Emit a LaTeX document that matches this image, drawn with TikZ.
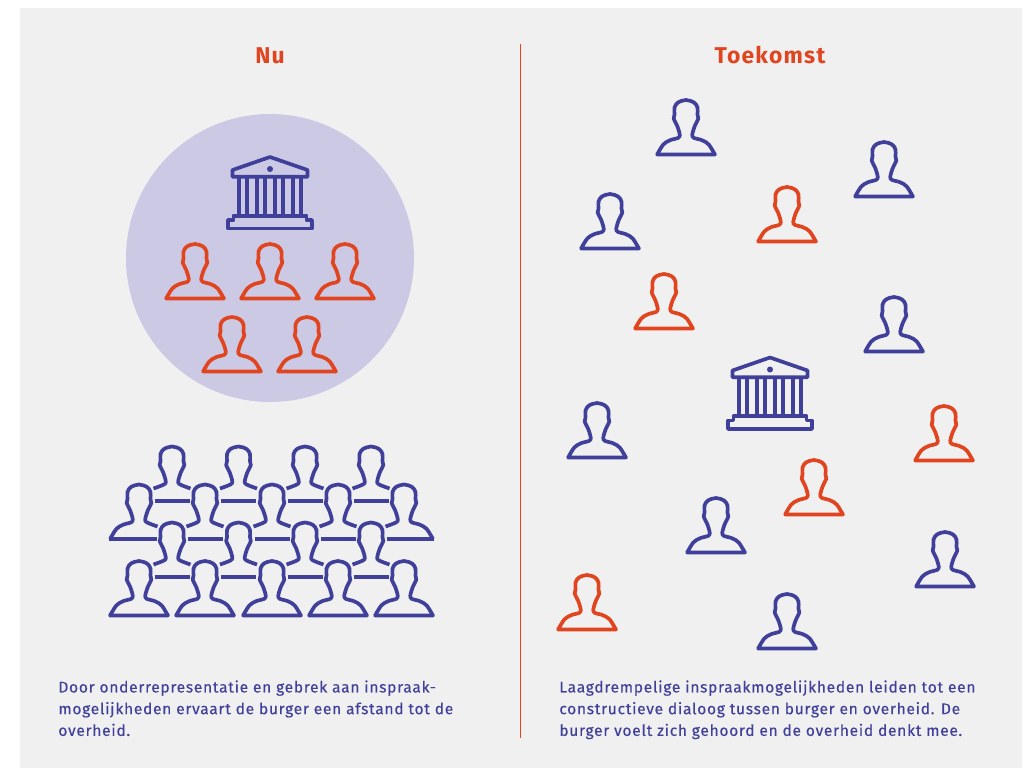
\documentclass[tikz,border=0pt]{standalone}
\usepackage{fontspec}
\setmainfont[LetterSpace=4.6,FakeBold=0.25]{Fira Sans}
\newfontfamily\kopletter[LetterSpace=5.5]{Fira Sans}
\definecolor{duidblauw}{HTML}{40409A}
\definecolor{duidrood}{HTML}{E0451F}
\definecolor{duidgrijs}{HTML}{F0F0F0}
\definecolor{duidlila}{HTML}{CCC9E5}
\newcommand{\hoofdlijn}{(-7.7,16.7) (-6.3,20) (-8.7,28.3) (-12.3,36) (-11.5,40) (-11.5,47) (-8,52) (0,54.5) (8,52) (11.5,47) (11.5,40) (12.3,36) (8.7,28.3) (6.3,20) (7.7,16.7)}
\tikzset{
	figuur/.style={line width=2.1pt,line join=round,line cap=butt},
	kop/.style={font=\kopletter\fontsize{13}{15}\selectfont\bfseries,text=duidrood,inner sep=0pt,anchor=base},
	tekst/.style={font=\fontsize{8.85}{12.35}\selectfont,text=duidblauw,inner sep=0pt,anchor=north west,align=left},
	pics/persoon/.style={code={
		\draw[figuur,#1] plot[smooth,tension=0.55] coordinates {(-28.9,0) (-22.7,10) (-16,14.3) \hoofdlijn (16,14.3) (22.7,10) (28.9,0)} -- cycle;
	}},
	pics/romp/.style={code={
		\draw[figuur,#1] plot[smooth,tension=0.55] coordinates {(-18.5,12.5) \hoofdlijn (18.5,12.5)};
	}},
	pics/schouderlinks/.style={code={
		\draw[figuur,#1] plot[smooth,tension=0.55] coordinates {(-28.9,0) (-22.7,10) (-16,14.3) \hoofdlijn (18.5,12.5)};
		\draw[figuur,#1] (-30,0) -- (17.5,0);
	}},
	pics/gebouw/.style={code={
		\draw[figuur,duidblauw] (-42,1.5) -- (42,1.5) -- (42,10) -- (36.5,10) -- (36.5,14.3) -- (-36.5,14.3) -- (-36.5,10) -- (-42,10) -- cycle;
		\draw[figuur,duidblauw] (-37.5,53.3) -- (37.5,53.3) -- (37.5,60) -- (0,73) -- (-37.5,60) -- cycle;
		\foreach \kolom in {-31,-23.3,-13,-5,4.7,12.7,22.7,30.7}
			\draw[figuur,duidblauw] (\kolom,14.3) -- (\kolom,53.3);
		\fill[duidblauw] (0,61) circle (3);
	}},
}
\begin{document}
\begin{tikzpicture}[x=0.02cm,y=-0.02cm]
	\useasboundingbox (0,0) rectangle (1030,768);
	\fill[duidgrijs] (20,8) rectangle (1022,768);
	\draw[duidrood,line width=0.5pt] (520,44) -- (520,738);
	\node[kop] (nu) at (270,63) {Nu};
	\node[kop] (toekomst) at (770,63) {Toekomst};
	% groep in de cirkel
	\fill[duidlila] (270,258) circle (144);
	\pic[yscale=-1] at (270,230) {gebouw};
	\foreach \px/\py in {195/298.5,270/298.5,345/298.5,232/371.5,307/371.5}
		\pic[yscale=-1] at (\px,\py) {persoon=duidrood};
	% menigte
	\foreach \rij in {501,577} {
		\foreach \px in {172,238.5,305,371} {
			\pic[yscale=-1] at (\px,\rij) {romp=duidblauw};
			\draw[figuur,duidblauw] (\px-17.5,\rij) -- (\px+17.5,\rij);
		}
	}
	\foreach \px in {205,272,338} {
		\pic[yscale=-1] at (\px,539) {romp=duidblauw};
		\draw[figuur,duidblauw] (\px-17.5,539) -- (\px+17.5,539);
	}
	\pic[yscale=-1] at (139,539) {schouderlinks=duidblauw};
	\pic[yscale=-1,xscale=-1] at (404,539) {schouderlinks=duidblauw};
	\foreach \px in {139,205,272,338,404}
		\pic[yscale=-1] at (\px,615.5) {persoon=duidblauw};
	% toekomst
	\pic[yscale=-1] at (770,430.5) {gebouw};
	\foreach \px/\py in {686/154.5,884/196.5,610/248.5,894/351.5,597/457.5,716/552.5,945/586.5,787/648.5}
		\pic[yscale=-1] at (\px,\py) {persoon=duidblauw};
	\foreach \px/\py in {787/241.5,664/328.5,944/460.5,814/514.5,587/629.5}
		\pic[yscale=-1] at (\px,\py) {persoon=duidrood};
	\node[tekst] (links) at (58,680) {Door onderrepresentatie en gebrek aan inspraak-\\mogelijkheden ervaart de burger een afstand tot de\\overheid.};
	\node[tekst] (rechts) at (559,680) {Laagdrempelige inspraakmogelijkheden leiden tot een\\constructieve dialoog tussen burger en overheid. De\\burger voelt zich gehoord en de overheid denkt mee.};
\end{tikzpicture}
\end{document}
